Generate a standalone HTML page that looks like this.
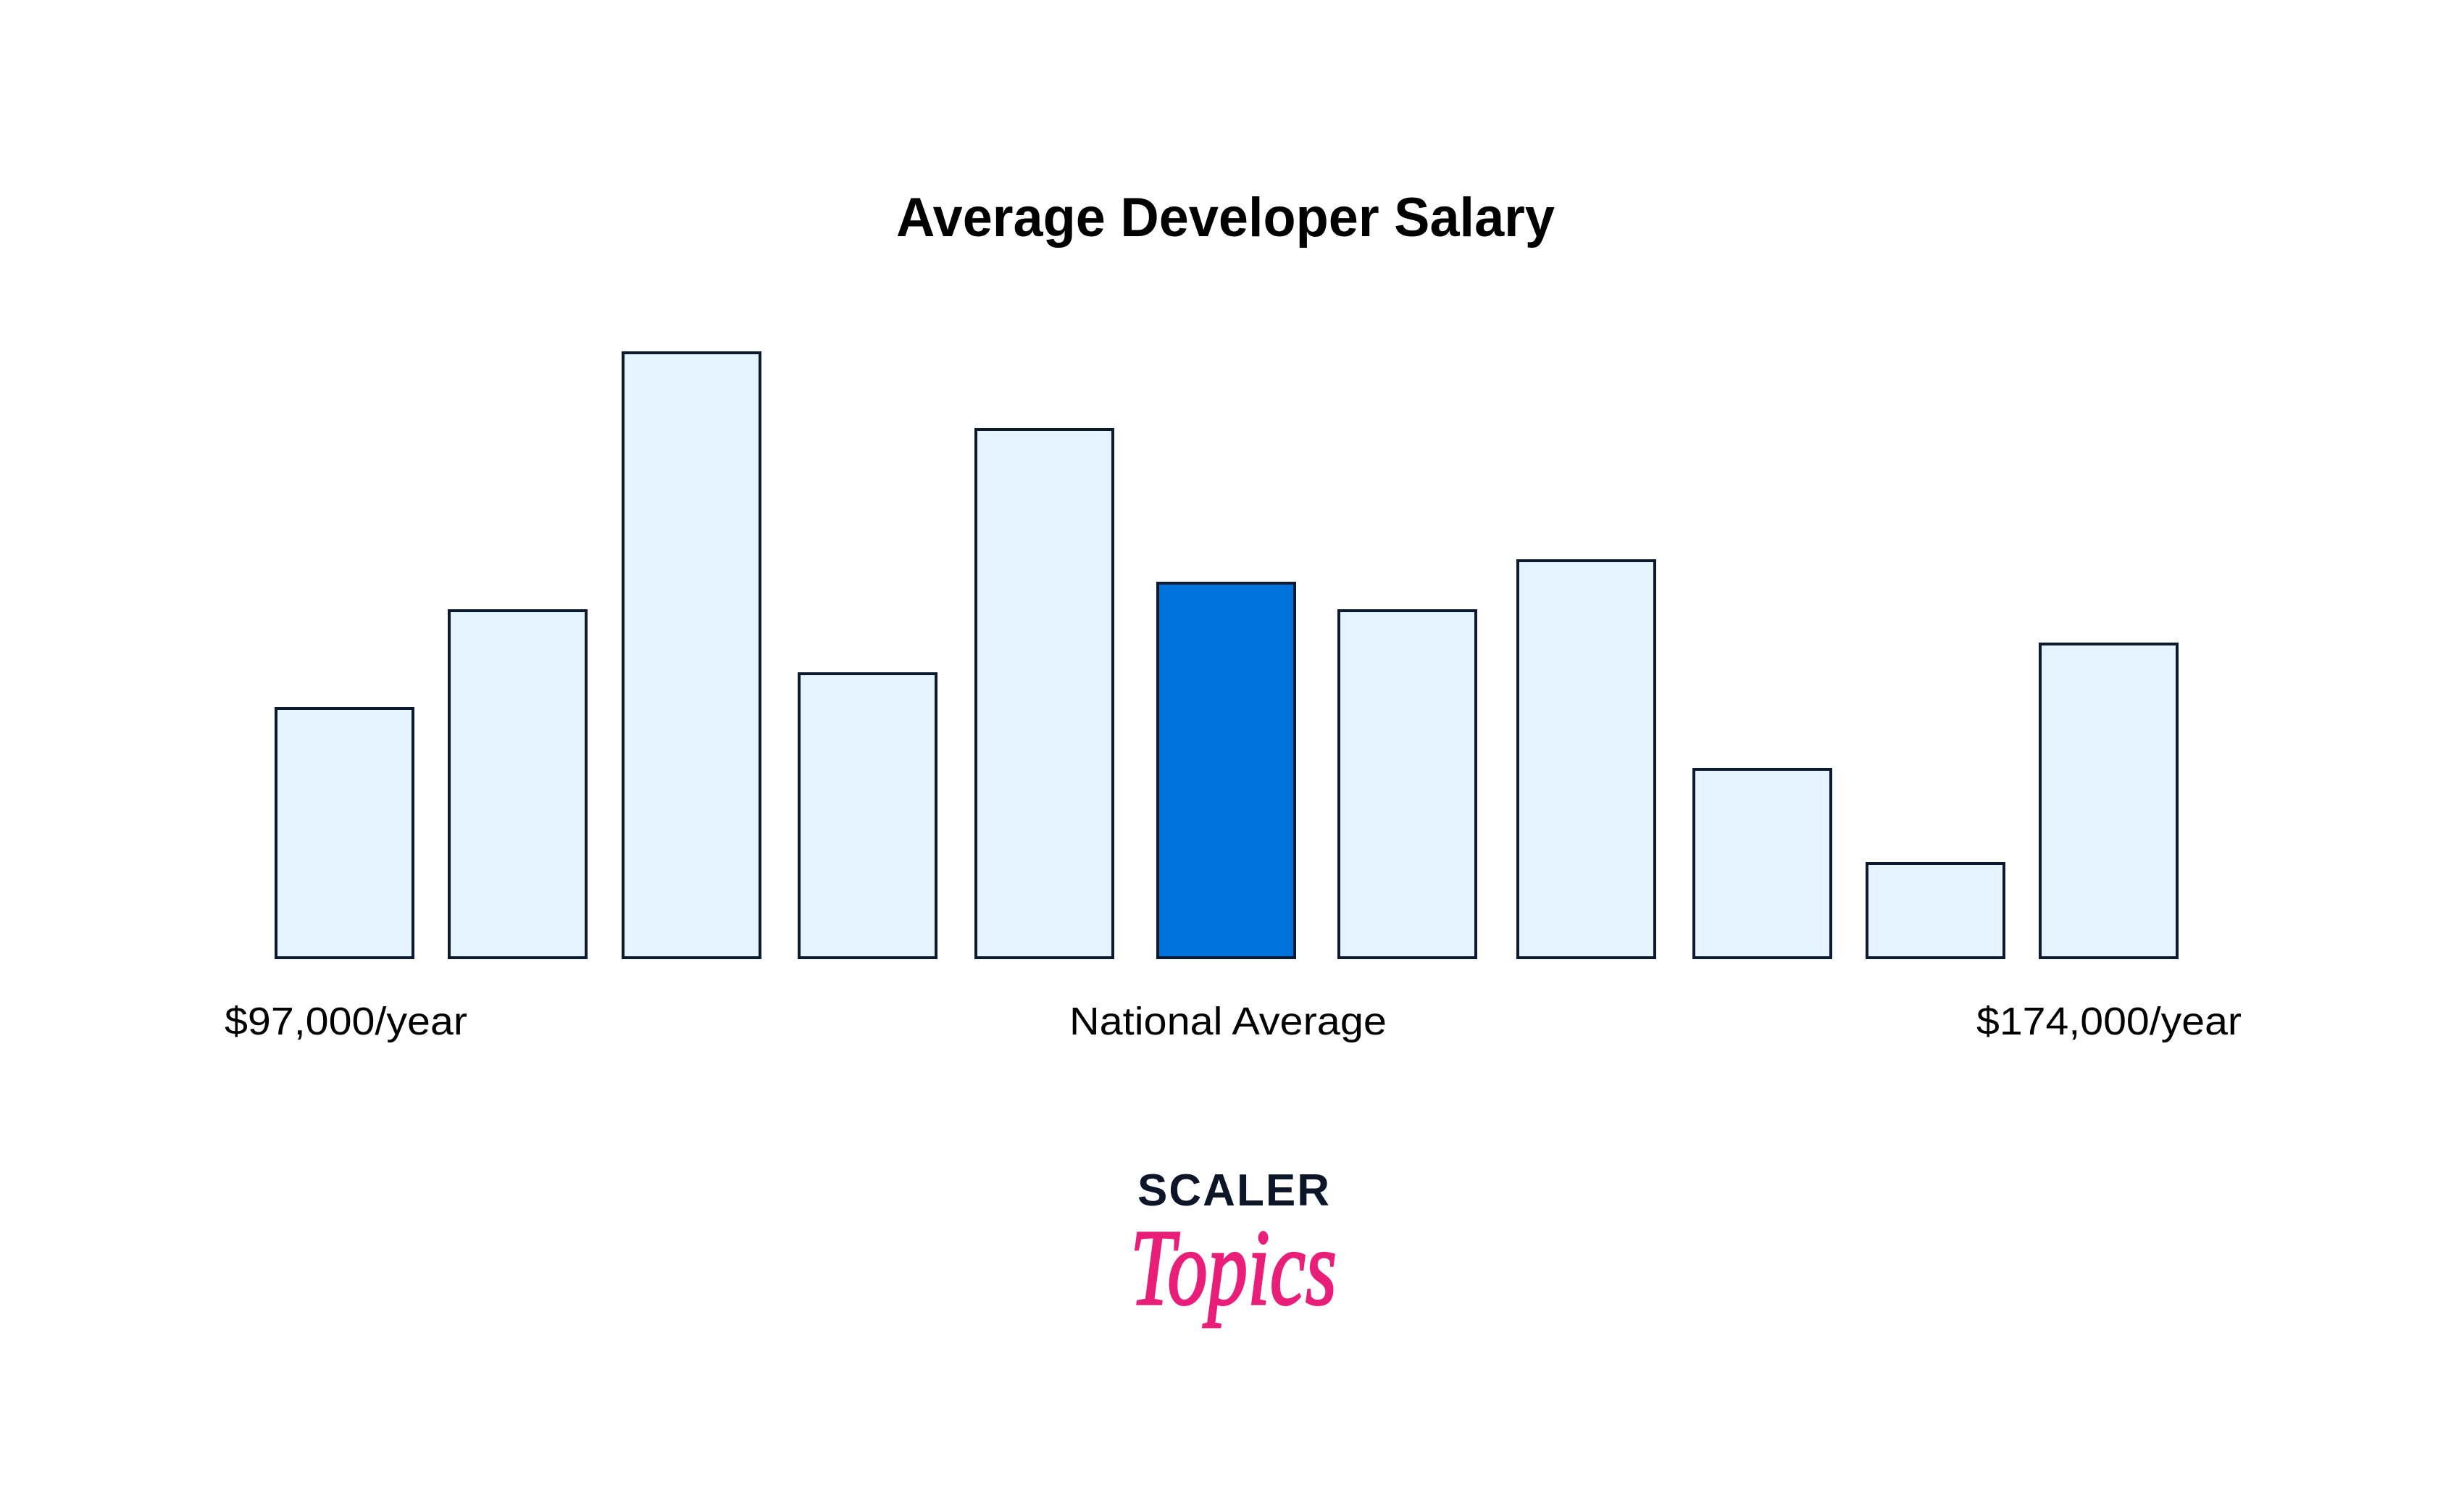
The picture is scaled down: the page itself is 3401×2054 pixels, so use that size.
<!DOCTYPE html>
<html><head><meta charset="utf-8"><style>html,body{margin:0;padding:0;background:#fff}svg{display:block}</style></head>
<body>
<svg width="3401" height="2054" viewBox="0 0 3401 2054" xmlns="http://www.w3.org/2000/svg">
<rect width="3401" height="2054" fill="#fff"/>
<text x="1237" y="326" font-family="Liberation Sans, sans-serif" font-weight="bold" font-size="76" textLength="909" lengthAdjust="spacingAndGlyphs" fill="#000">Average Developer Salary</text>
<g stroke="#0b1a30" stroke-width="4" fill="#e5f3fe">
<rect x="381" y="978" width="189" height="344"/>
<rect x="620" y="843" width="189" height="479"/>
<rect x="860" y="487" width="189" height="835"/>
<rect x="1103" y="930" width="189" height="392"/>
<rect x="1347" y="593" width="189" height="729"/>
<rect x="1598" y="805" width="189" height="517" fill="#0073da"/>
<rect x="1848" y="843" width="189" height="479"/>
<rect x="2095" y="774" width="189" height="548"/>
<rect x="2338" y="1062" width="189" height="260"/>
<rect x="2577" y="1192" width="189" height="130"/>
<rect x="2816" y="889" width="189" height="433"/>
</g>
<g font-family="Liberation Sans, sans-serif" font-size="54" fill="#000">
<text x="310" y="1428" textLength="335" lengthAdjust="spacingAndGlyphs">$97,000/year</text>
<text x="1476" y="1428" textLength="438" lengthAdjust="spacingAndGlyphs">National Average</text>
<text x="2728" y="1428" textLength="366" lengthAdjust="spacingAndGlyphs">$174,000/year</text>
</g>
<text x="1570" y="1664" font-family="Liberation Sans, sans-serif" font-weight="bold" font-size="62" textLength="265" lengthAdjust="spacing" fill="#0c1628">SCALER</text>
<text x="1560" y="1800" font-family="Liberation Serif, serif" font-style="italic" font-size="150" textLength="285" lengthAdjust="spacingAndGlyphs" fill="#e91e78" stroke="#e91e78" stroke-width="3">Topics</text>
</svg>
</body></html>
